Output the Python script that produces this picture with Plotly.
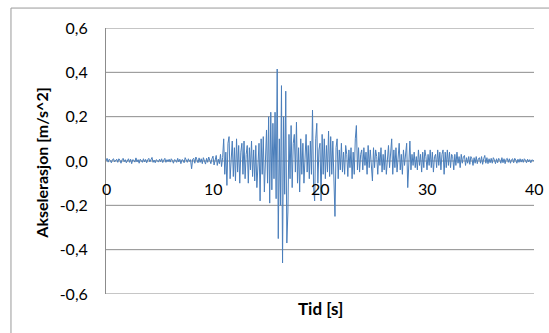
import numpy as np
import plotly.graph_objects as go

# Acceleration samples, 0.1 s spacing, 0..40 s
accel = [
    0.00, 0.012, -0.005, 0.008, 0.003, -0.008, 0.006, 0.01, -0.004, 0.002,
    0.008, -0.006, 0.01, 0.004, -0.01, 0.005, 0.012, -0.003, 0.006, -0.008,
    0.004, 0.01, -0.006, 0.008, -0.012, 0.006, 0.003, -0.005, 0.014, -0.004,
    0.006, -0.01, 0.008, 0.002, -0.006, 0.01, -0.004, 0.007, -0.008, 0.005,
    0.012, -0.004, 0.006, 0.016, -0.006, 0.004, -0.008, 0.006, 0.002, -0.005,
    0.008, -0.003, 0.01, -0.007, 0.004, 0.012, -0.006, 0.006, -0.003, 0.008,
    -0.005, 0.01, 0.003, -0.01, 0.006, 0.004, -0.006, 0.012, -0.004, 0.008,
    -0.012, 0.006, 0.004, -0.008, 0.015, 0.004, -0.006, 0.01, -0.002, 0.006,
    -0.035, 0.008, 0.012, -0.01, 0.018, 0.005, -0.008, 0.014, -0.006, 0.01,
    -0.012, 0.015, 0.004, -0.014, 0.012, -0.006, 0.018, 0.006, -0.012, 0.01,
    0.022, -0.018, 0.01, 0.025, -0.02, 0.008, -0.012, 0.03, -0.025, 0.015,
    0.10, -0.06, 0.04, -0.11, 0.08, 0.11, -0.08, 0.05, 0.09, -0.07,
    0.06, -0.09, 0.10, -0.05, 0.07, -0.10, 0.04, 0.08, -0.06, 0.09,
    -0.08, 0.03, 0.07, -0.10, 0.06, -0.04, 0.09, -0.07, 0.05, -0.09,
    0.07, -0.12, 0.03, 0.08, -0.18, 0.10, -0.06, 0.11, -0.14, 0.06,
    0.14, -0.10, 0.20, -0.19, 0.22, -0.13, 0.17, -0.08, 0.22, -0.17,
    0.415, -0.35, 0.10, -0.20, 0.34, -0.46, 0.20, -0.15, 0.315, -0.37,
    -0.23, 0.12, -0.08, 0.16, -0.12, 0.08, 0.12, -0.05, 0.175, -0.10,
    0.06, -0.14, 0.10, -0.06, 0.08, -0.10, 0.04, 0.12, -0.05, 0.07,
    -0.08, 0.09, -0.06, 0.23, -0.12, -0.18, 0.10, 0.17, -0.10, 0.05,
    0.08, -0.18, 0.12, -0.06, 0.10, -0.08, 0.07, -0.05, 0.135, -0.07,
    0.11, -0.06, 0.09, -0.04, -0.25, 0.06, 0.10, -0.08, 0.05, -0.04,
    0.08, -0.05, 0.04, -0.06, 0.07, 0.03, -0.07, 0.05, -0.03, 0.06,
    -0.08, 0.04, -0.06, 0.10, 0.16, -0.04, 0.06, -0.05, 0.03, 0.05,
    -0.04, 0.06, -0.02, 0.04, -0.06, 0.07, -0.03, 0.05, -0.04, -0.09,
    0.06, -0.03, 0.05, 0.02, -0.06, 0.04, -0.02, 0.06, -0.05, 0.03,
    -0.04, 0.05, -0.06, 0.03, 0.07, -0.03, 0.04, 0.10, -0.06, 0.05,
    -0.03, 0.06, -0.05, 0.04, 0.08, -0.04, 0.03, -0.06, 0.05, -0.02,
    0.04, 0.08, -0.12, 0.02, 0.09, -0.04, 0.03, -0.02, 0.04, -0.03,
    0.02, -0.04, 0.05, -0.02, 0.03, -0.05, 0.04, -0.03, 0.05, 0.02,
    -0.04, 0.03, -0.02, 0.05, -0.03, 0.04, -0.05, 0.02, 0.03, -0.03,
    0.05, -0.02, 0.04, -0.04, 0.03, 0.05, -0.06, 0.04, -0.03, 0.05,
    -0.02, 0.04, -0.03, 0.03, 0.02, -0.04, 0.03, -0.02, 0.04, -0.01,
    0.02, -0.03, 0.03, -0.01, 0.02, 0.025, -0.02, 0.015, -0.01, 0.02,
    -0.015, 0.02, 0.01, -0.02, 0.015, -0.01, 0.02, -0.012, 0.01, 0.015,
    -0.01, 0.02, -0.015, 0.01, 0.025, -0.01, 0.015, -0.012, 0.01, -0.008,
    0.012, -0.01, 0.015, 0.005, -0.012, 0.01, -0.008, 0.012, 0.006, -0.01,
    0.015, -0.008, 0.01, -0.012, 0.008, 0.012, -0.006, 0.01, -0.01, 0.006,
    0.01, -0.008, 0.012, 0.004, -0.01, 0.008, -0.006, 0.01, -0.005, 0.008,
    -0.006, 0.01, 0.004, -0.008, 0.008, -0.004, 0.006, -0.008, 0.005, 0.003,
    0.0,
]
time = np.arange(len(accel)) * 0.1

x_ticks = [0, 10, 20, 30, 40]
x_ticklabels = ["0", "10", "20", "30", "40"]
y_ticks = [-0.6, -0.4, -0.2, 0.0, 0.2, 0.4, 0.6]
y_ticklabels = ["-0,6", "-0,4", "-0,2", "0,0", "0,2", "0,4", "0,6"]

FONT = "Lato, 'Open Sans', sans-serif"
GRID = "#8C8C8C"
BORDER = "#9A9A9A"

fig = go.Figure()
fig.add_trace(go.Scatter(x=time, y=accel, mode="lines",
                         line=dict(color="#4A7EBB", width=1), showlegend=False))

# x tick labels sit below the axis line that crosses at y = 0
annotations = [
    dict(text=lab, x=v, y=0, xref="x", yref="y", yshift=-27,
         xanchor="center", yanchor="middle", showarrow=False,
         font=dict(family=FONT, size=16, color="#000000"))
    for v, lab in zip(x_ticks, x_ticklabels)
]
annotations += [
    dict(text="<b>Tid [s]</b>", xref="paper", yref="paper", x=0.5, y=-0.056,
         xanchor="center", yanchor="middle", showarrow=False,
         font=dict(family=FONT, size=17, color="#000000")),
    dict(text="<b>Akselerasjon [m/s^2]</b>", xref="paper", yref="paper",
         x=-0.1495, y=0.49, xanchor="center", yanchor="middle",
         textangle=-90, showarrow=False,
         font=dict(family=FONT, size=16, color="#000000")),
]

# horizontal gridlines at each y tick, spanning the plot width
grid_shapes = [
    dict(type="line", xref="paper", yref="y", x0=0, x1=1, y0=v, y1=v,
         layer="below", line=dict(color=GRID, width=1))
    for v in y_ticks
]

fig.update_layout(
    width=549, height=333,
    margin=dict(l=106, r=15, t=28, b=39, autoexpand=False),
    paper_bgcolor="white", plot_bgcolor="rgba(0,0,0,0)",
    font=dict(family=FONT, size=14, color="#000000"),
    xaxis=dict(range=[0, 40], showticklabels=False, ticks="",
               showgrid=False, zeroline=False, showline=False,
               automargin=False),
    yaxis=dict(range=[-0.6, 0.6], tickvals=y_ticks, ticktext=y_ticklabels,
               showgrid=False, zeroline=False,
               showline=True, linecolor=GRID, linewidth=1,
               ticks="outside", ticklen=14, tickcolor="rgba(0,0,0,0)",
               tickfont=dict(family=FONT, size=16, color="#000000"),
               automargin=False),
    annotations=annotations,
    shapes=grid_shapes + [
        dict(type="line", xref="paper", yref="paper", x0=-0.222, x1=-0.222,
             y0=-0.2, y1=1.075, line=dict(color=BORDER, width=1)),
        dict(type="line", xref="paper", yref="paper", x0=-0.222, x1=1.1,
             y0=1.075, y1=1.075, line=dict(color=BORDER, width=1)),
    ],
)

fig.write_html("out.html", config={"displayModeBar": False},
               post_script="document.body.style.margin='0';")
